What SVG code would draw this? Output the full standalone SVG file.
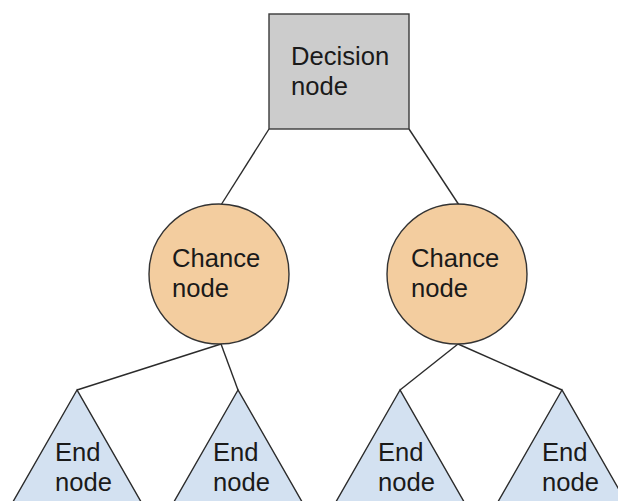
<svg xmlns="http://www.w3.org/2000/svg" width="618" height="501" viewBox="0 0 618 501">
  <style>
    .edge { stroke: #2b2b2b; stroke-width: 1.4; fill: none; }
    .decision { fill: #cccccc; stroke: #3a3a3a; stroke-width: 1.4; }
    .chance { fill: #f3cd9f; stroke: #333333; stroke-width: 1.4; }
    .end { fill: #d3e1f1; stroke: #2b2b2b; stroke-width: 1.4; }
    .label { font-family: "Liberation Sans", Arial, sans-serif; font-size: 25.6px; fill: #1a1a1a; }
  </style>
  <rect width="618" height="501" fill="#ffffff"/>

  <!-- connectors -->
  <g id="connectors">
    <line class="edge" x1="269" y1="129" x2="221" y2="205"/>
    <line class="edge" x1="409" y1="129" x2="459" y2="205"/>
    <line class="edge" x1="221" y1="344" x2="77" y2="390"/>
    <line class="edge" x1="221" y1="344" x2="238" y2="390"/>
    <line class="edge" x1="458" y1="344" x2="400" y2="390"/>
    <line class="edge" x1="458" y1="344" x2="562" y2="390"/>
  </g>

  <!-- root decision -->
  <g id="decision">
    <rect class="decision" x="269" y="14" width="140" height="115"/>
    <text class="label" x="291" y="65">Decision</text>
    <text class="label" x="291" y="95">node</text>
  </g>

  <!-- chance nodes -->
  <g id="chance-left">
    <circle class="chance" cx="219" cy="274" r="70"/>
    <text class="label" x="172" y="267">Chance</text>
    <text class="label" x="172" y="297">node</text>
  </g>
  <g id="chance-right">
    <circle class="chance" cx="457" cy="274" r="70"/>
    <text class="label" x="411" y="267">Chance</text>
    <text class="label" x="411" y="297">node</text>
  </g>

  <!-- end nodes -->
  <g id="end-1">
    <polygon class="end" points="77,390 10,507 144,507"/>
    <text class="label" x="55" y="461">End</text>
    <text class="label" x="55" y="491">node</text>
  </g>
  <g id="end-2">
    <polygon class="end" points="238,390 171,507 305,507"/>
    <text class="label" x="213" y="461">End</text>
    <text class="label" x="213" y="491">node</text>
  </g>
  <g id="end-3">
    <polygon class="end" points="400,390 333,507 467,507"/>
    <text class="label" x="378" y="461">End</text>
    <text class="label" x="378" y="491">node</text>
  </g>
  <g id="end-4">
    <polygon class="end" points="562,390 495,507 629,507"/>
    <text class="label" x="542" y="461">End</text>
    <text class="label" x="542" y="491">node</text>
  </g>
</svg>
